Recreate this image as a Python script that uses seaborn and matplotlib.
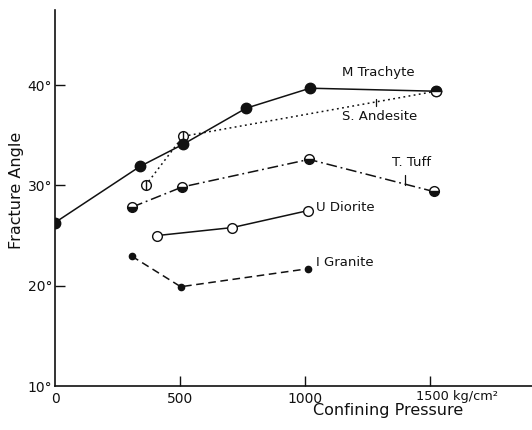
import matplotlib
matplotlib.use("Agg")
import matplotlib.pyplot as plt
import seaborn as sns
import pandas as pd

# Confining pressure (kg/cm^2) and fracture angle (degrees) for each rock
trachyte_p = [0, 340, 512, 764, 1020, 1524]
trachyte_a = [26.3, 31.9, 34.1, 37.7, 39.7, 39.4]

andesite_p = [362, 512, 1524]
andesite_a = [30.0, 34.9, 39.4]

tuff_p = [309, 509, 1016, 1514]
tuff_a = [27.85, 29.85, 32.6, 29.4]

diorite_p = [407, 709, 1013]
diorite_a = [25.0, 25.8, 27.5]

granite_p = [307, 503, 1013]
granite_a = [22.95, 19.9, 21.7]

y_ticks = [10, 20, 30, 40]
y_tick_labels = ["10°", "20°", "30°", "40°"]
x_ticks = [0, 500, 1000, 1500]
x_tick_labels = ["0", "500", "1000", ""]

sns.set_style("white")
plt.rcParams["font.family"] = ["DejaVu Sans"]

fig = plt.figure(figsize=(5.32, 4.30), dpi=100)
ax = fig.add_axes([55 / 532, 44 / 430, 477 / 532, 376 / 430])
ax.set_xlim(0, 1908)
ax.set_ylim(10, 47.5)

ink = "#111111"

def draw(p, a, ls, **kw):
    df = pd.DataFrame({"p": p, "a": a})
    sns.lineplot(data=df, x="p", y="a", ax=ax, color=ink, linestyle=ls,
                 linewidth=1.1, sort=False, markeredgecolor=ink,
                 markeredgewidth=1.0, **kw)

# S. Andesite (dotted, open circles with a vertical bar)
draw(andesite_p, andesite_a, (0, (1.2, 2.2)), marker="o", markersize=7,
     markerfacecolor="white")
sns.scatterplot(x=andesite_p[:2], y=andesite_a[:2], ax=ax, marker="|",
                s=45, color=ink, linewidth=1.0, zorder=5)

# M Trachyte (solid, filled circles)
draw(trachyte_p[:-1], trachyte_a[:-1], "-", marker="o", markersize=7.5,
     markerfacecolor=ink)
draw(trachyte_p[-2:], trachyte_a[-2:], "-", marker="")
# shared end point: half-filled marker
ax.plot(trachyte_p[-1], trachyte_a[-1], marker="o", markersize=7.5,
        fillstyle="top", color=ink, markerfacecoloralt="white",
        markeredgecolor=ink, zorder=6)

# T. Tuff (dash-dot, half-filled circles)
draw(tuff_p, tuff_a, (0, (7, 2.5, 1.2, 2.5)), marker="o", markersize=7,
     fillstyle="bottom", markerfacecolor=ink, markerfacecoloralt="white")

# U Diorite (solid, open circles)
draw(diorite_p, diorite_a, "-", marker="o", markersize=7,
     markerfacecolor="white")

# I Granite (dashed, small dots)
draw(granite_p, granite_a, (0, (5, 3)), marker="o", markersize=4.5,
     markerfacecolor=ink)

# Curve labels and leader ticks
fs = 9.5
ax.text(1295, 41.3, "M Trachyte", ha="center", va="center", fontsize=fs, color=ink)
ax.text(1300, 36.9, "S. Andesite", ha="center", va="center", fontsize=fs, color=ink)
ax.plot([1284, 1284], [37.95, 38.6], color=ink, lw=0.9)
ax.text(1425, 32.3, "T. Tuff", ha="center", va="center", fontsize=fs, color=ink)
ax.plot([1400, 1400], [30.0, 31.0], color=ink, lw=0.9)
ax.text(1045, 27.8, "U Diorite", ha="left", va="center", fontsize=fs, color=ink)
ax.text(1045, 22.3, "I Granite", ha="left", va="center", fontsize=fs, color=ink)

# Axes styling
for s in ["top", "right"]:
    ax.spines[s].set_visible(False)
for s in ["left", "bottom"]:
    ax.spines[s].set_color(ink)
    ax.spines[s].set_linewidth(1.2)

ax.set_yticks(y_ticks)
ax.set_yticklabels(y_tick_labels, fontsize=10, color=ink)
ax.set_xticks(x_ticks)
ax.set_xticklabels(x_tick_labels, fontsize=10, color=ink)
ax.tick_params(axis="both", direction="in", length=7, width=1.0, colors=ink,
               bottom=True, left=True)
ax.tick_params(axis="y", pad=2)
ax.tick_params(axis="x", pad=4)
ax.xaxis.get_major_ticks()[0].tick1line.set_visible(False)
ax.yaxis.get_major_ticks()[0].tick1line.set_visible(False)
ax.text(1444, 9.65, "1500 kg/cm²", ha="left", va="top", fontsize=9.3,
        color=ink)

ax.set_xlabel("")
ax.set_ylabel("")
fig.text(388 / 532, 1 - 411 / 430, "Confining Pressure", ha="center",
         va="center", fontsize=11.5, color=ink)
fig.text(17 / 532, 1 - 190 / 430, "Fracture Angle", ha="center",
         va="center", rotation=90, fontsize=11.5, color=ink)

fig.savefig("out.png", dpi=100, facecolor="white")
